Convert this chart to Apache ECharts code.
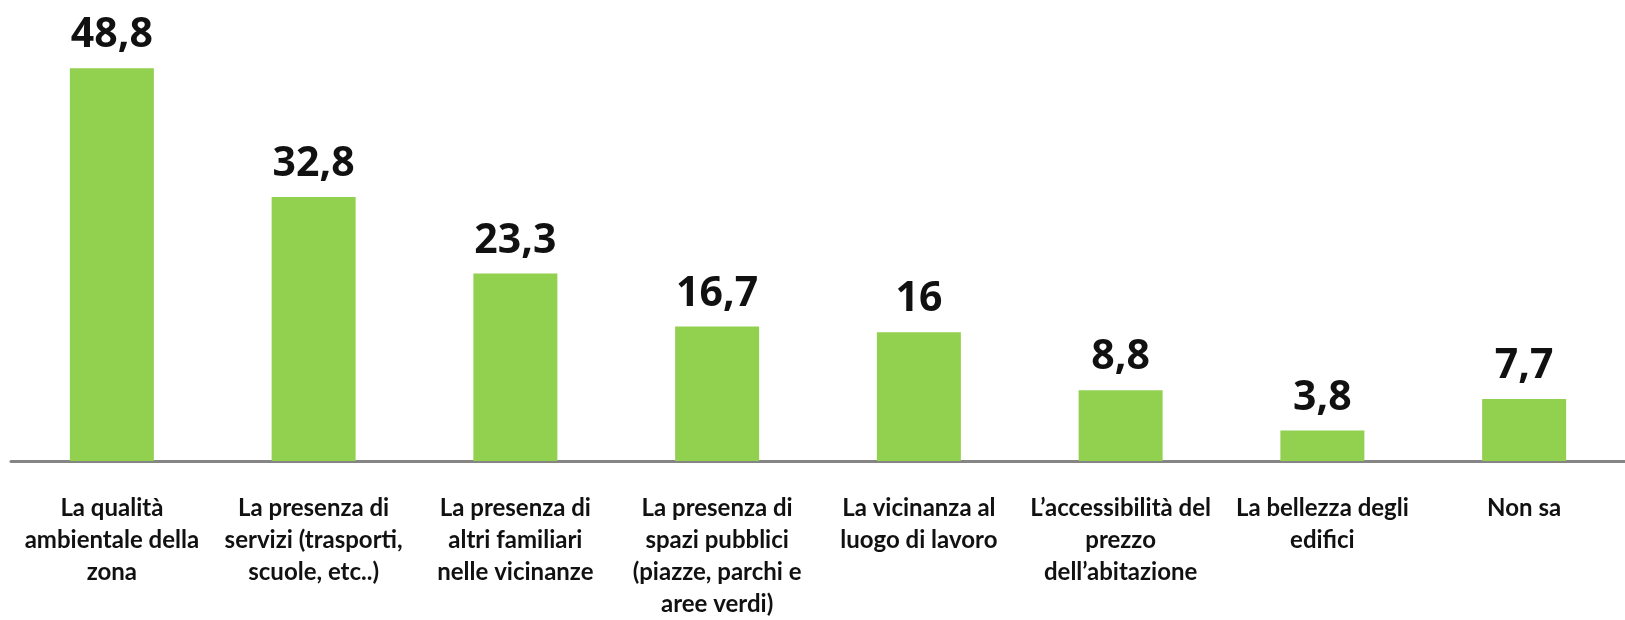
<!DOCTYPE html>
<html>
<head>
<meta charset="utf-8">
<script src="https://cdn.jsdelivr.net/npm/echarts@6/dist/echarts.min.js"></script>
<style>
  html, body { margin: 0; padding: 0; background: #fff; }
  #chart { width: 1625px; height: 620px; }
</style>
</head>
<body>
<div id="chart"></div>
<script>
var categories = [
    'La qualità\nambientale della\nzona',
    'La presenza di\nservizi (trasporti,\nscuole, etc..)',
    'La presenza di\naltri familiari\nnelle vicinanze',
    'La presenza di\nspazi pubblici\n(piazze, parchi e\naree verdi)',
    'La vicinanza al\nluogo di lavoro',
    'L’accessibilità del\nprezzo\ndell’abitazione',
    'La bellezza degli\nedifici',
    'Non sa'
];
var values = [48.8, 32.8, 23.3, 16.7, 16, 8.8, 3.8, 7.7];

var chart = document.getElementById('chart');
var myChart = echarts.init(chart);

option = {
    animation: false,
    grid: {
        left: 11,
        top: 58.5,
        width: 1621,
        height: 402.5
    },
    xAxis: {
        type: 'category',
        data: categories,
        axisTick: { show: false },
        axisLine: {
            lineStyle: { color: '#858585', width: 3 }
        },
        axisLabel: {
            interval: 0,
            margin: 31,
            color: '#111',
            fontFamily: 'Lato, sans-serif',
            fontWeight: 'bold',
            fontSize: 24,
            lineHeight: 32,
            align: 'center'
        }
    },
    yAxis: {
        type: 'value',
        min: 0,
        max: 50,
        show: false,
        splitLine: { show: false }
    },
    series: [
        {
            type: 'bar',
            data: values,
            barWidth: 84,
            itemStyle: { color: '#92D050' },
            label: {
                show: true,
                position: 'top',
                distance: 12,
                color: '#111',
                fontFamily: '"Noto Sans", sans-serif',
                fontWeight: 'bold',
                fontSize: 41,
                formatter: function (p) {
                    return String(p.value).replace('.', ',');
                }
            }
        }
    ]
};

myChart.setOption(option);
</script>
</body>
</html>
